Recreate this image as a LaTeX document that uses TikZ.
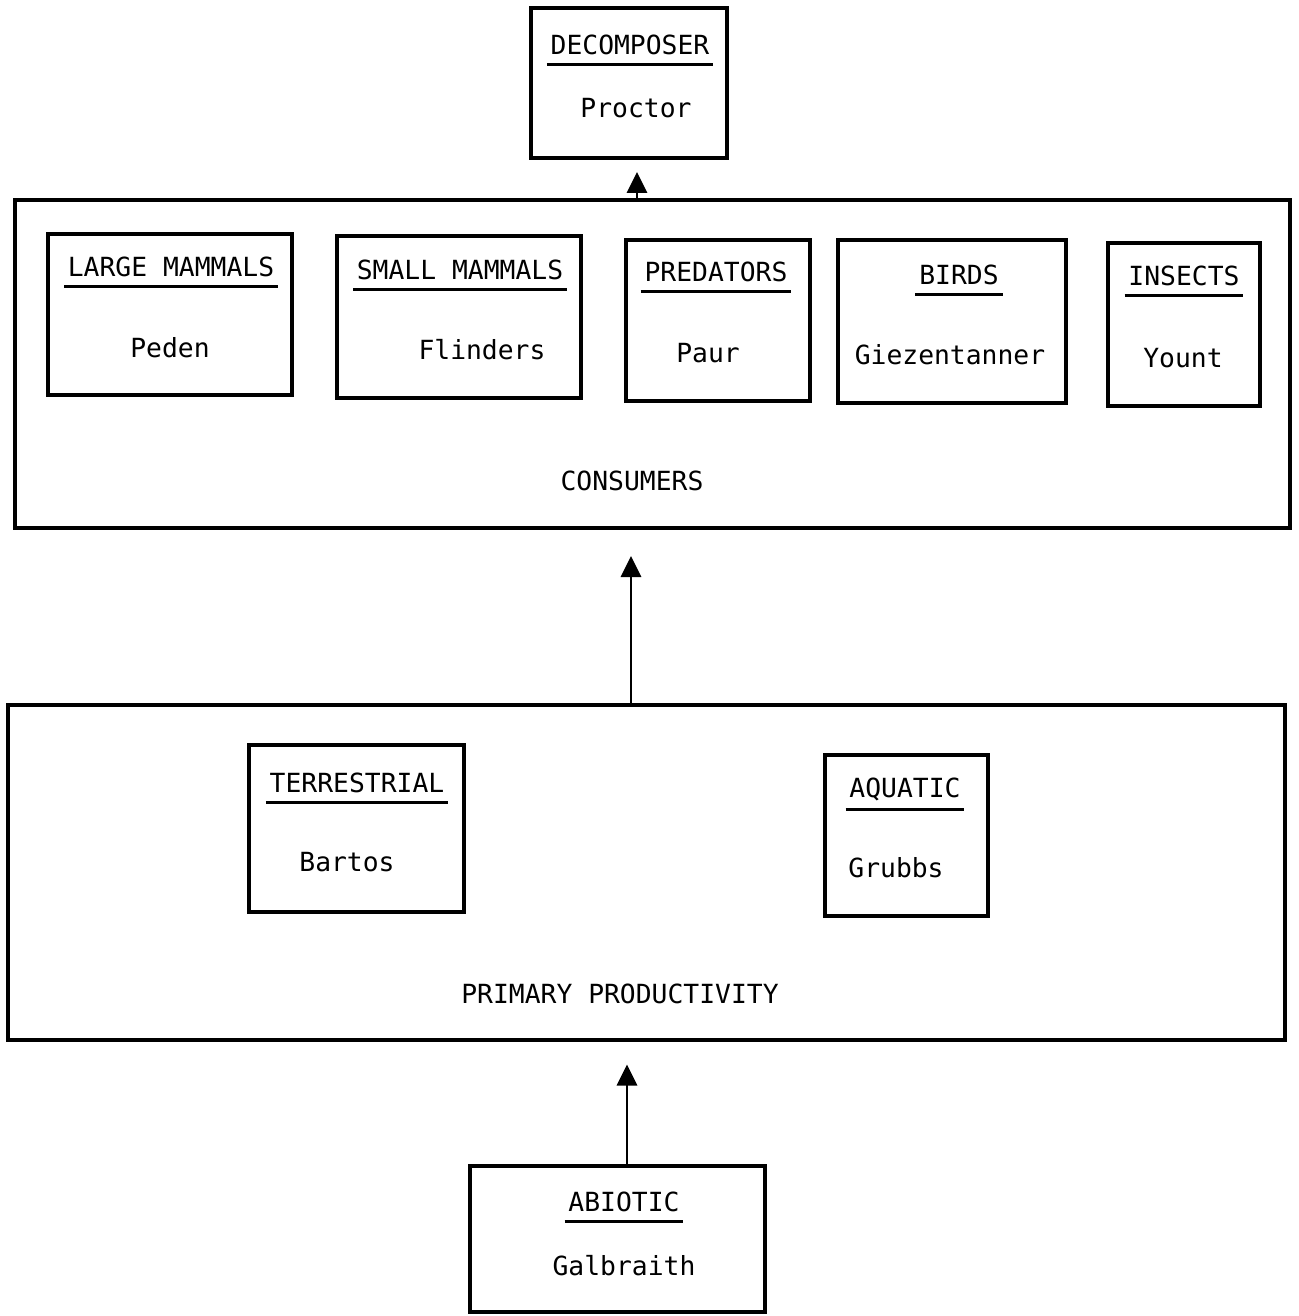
\documentclass[tikz,border=0pt]{standalone}
\usepackage{fontspec}
\setmonofont{DejaVu Sans Mono}
\usetikzlibrary{fit,arrows.meta}
\tikzset{
  boite/.style={draw, line width=1.9pt, inner sep=0pt},
  titre/.style={font=\ttfamily\fontsize{15}{18}\selectfont, inner xsep=2pt, inner ysep=5pt},
  nom/.style={font=\ttfamily\fontsize{15}{18}\selectfont},
  fleche/.style={line width=1.7pt, -{Triangle[width=0.4cm,length=0.42cm]}},
}
\begin{document}
\begin{tikzpicture}[x=0.02cm, y=-0.02cm]
    \useasboundingbox (0,0) rectangle (1299,1316);
    %------------Cadres----------
    \node[boite, fit={(531,8) (727,158)}] (decomp) {};
    \node[boite, fit={(15,200) (1290,528)}] (cons) {};
    \node[boite, fit={(48,234) (292,395)}] (lmam) {};
    \node[boite, fit={(337,236) (581,398)}] (smam) {};
    \node[boite, fit={(626,240) (810,401)}] (pred) {};
    \node[boite, fit={(838,240) (1066,403)}] (bird) {};
    \node[boite, fit={(1108,243) (1260,406)}] (inse) {};
    \node[boite, fit={(8,705) (1285,1040)}] (prim) {};
    \node[boite, fit={(249,745) (464,912)}] (terr) {};
    \node[boite, fit={(825,755) (988,916)}] (aqua) {};
    \node[boite, fit={(470,1166) (765,1312)}] (abio) {};
    %------------Titres----------
    \node[titre] (tdec) at (630,45) {DECOMPOSER};
    \node[titre] (tlm) at (171,267) {LARGE MAMMALS};
    \node[titre] (tsm) at (460,270) {SMALL MAMMALS};
    \node[titre] (tpr) at (716,272) {PREDATORS};
    \node[titre] (tbi) at (959,275) {BIRDS};
    \node[titre] (tin) at (1184,276) {INSECTS};
    \node[titre] (tte) at (357,783) {TERRESTRIAL};
    \node[titre] (taq) at (905,789) {AQUATIC};
    \node[titre] (tab) at (624,1202) {ABIOTIC};
    \foreach \t in {tdec,tlm,tsm,tpr,tbi,tin,tte,taq,tab} {
        \draw[line width=1.6pt] (\t.south west) -- (\t.south east);
    }
    %------------Noms----------
    \node[nom] (nproc) at (636,108) {Proctor};
    \node[nom] (nped) at (170,348) {Peden};
    \node[nom] (nfli) at (482,350) {Flinders};
    \node[nom] (npau) at (708,353) {Paur};
    \node[nom] (ngie) at (950,355) {Giezentanner};
    \node[nom] (nyou) at (1183,358) {Yount};
    \node[nom] (nbar) at (347,862) {Bartos};
    \node[nom] (ngru) at (896,868) {Grubbs};
    \node[nom] (ngal) at (624,1266) {Galbraith};
    \node[nom] (lcons) at (632,481) {CONSUMERS};
    \node[nom] (lprim) at (620,994) {PRIMARY PRODUCTIVITY};
    %------------Fleches----------
    \coordinate (f1) at (637,0);
    \coordinate (f2) at (631,0);
    \coordinate (f3) at (627,0);
    \draw[fleche, shorten >=7pt] (cons.north -| f1) -- (decomp.south -| f1);
    \draw[fleche, shorten >=15pt] (prim.north -| f2) -- (cons.south -| f2);
    \draw[fleche, shorten >=13pt] (abio.north -| f3) -- (prim.south -| f3);
\end{tikzpicture}
\end{document}
